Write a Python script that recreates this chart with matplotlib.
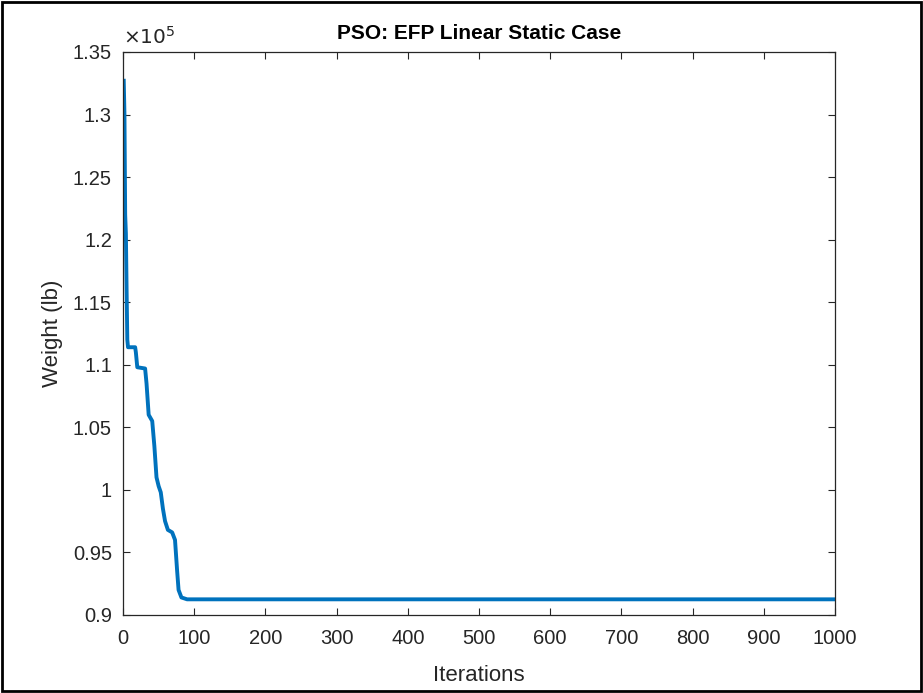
import matplotlib
matplotlib.use("Agg")
import matplotlib.pyplot as plt
import numpy as np
from matplotlib.patches import Rectangle

# convergence history (breakpoints), weight in lb
iterations = [1, 2, 3, 4, 5, 6, 7, 17, 18, 20, 31, 33, 36, 41, 44, 47, 50, 53,
              56, 59, 63, 69, 73, 76, 78, 82, 90, 1000]
weight_lb = [132700, 130000, 122000, 120500, 116000, 112000, 111400, 111400,
             111000, 109800, 109700, 108500, 106000, 105500, 103500, 101000,
             100300, 99800, 98500, 97500, 96800, 96600, 96000, 93500, 92000,
             91400, 91250, 91250]

x_ticks = [0, 100, 200, 300, 400, 500, 600, 700, 800, 900, 1000]
y_ticks = [0.9, 0.95, 1.0, 1.05, 1.1, 1.15, 1.2, 1.25, 1.3, 1.35]

plt.rcParams["font.family"] = ["Liberation Sans", "DejaVu Sans"]
txt = "#262626"

fig = plt.figure(figsize=(9.23, 6.93), dpi=100)
ax = fig.add_axes([0.1333, 0.1126, 0.7714, 0.8124])

ax.plot(iterations, np.array(weight_lb) / 1e5, color="#0072BD", lw=2.8)

ax.set_xlim(0, 1000)
ax.set_ylim(0.9, 1.35)
ax.set_xticks(x_ticks)
ax.set_yticks(y_ticks)
ax.set_yticklabels([f"{v:g}" for v in y_ticks])
ax.tick_params(direction="in", length=5, width=0.8, top=True, right=True,
               labelsize=14.5, colors=txt)
ax.tick_params(axis="x", pad=10)
ax.tick_params(axis="y", pad=8)
for s in ax.spines.values():
    s.set_color(txt)
    s.set_linewidth(0.9)

ax.text(0.0, 1.008, r"$\times10^{5}$", transform=ax.transAxes, fontsize=14.5,
        color=txt, ha="left", va="bottom")
ax.set_title("PSO: EFP Linear Static Case", fontsize=15, fontweight="bold",
             color="black", pad=9)
ax.set_xlabel("Iterations", fontsize=16, color=txt, labelpad=12)
ax.set_ylabel("Weight (lb)", fontsize=16, color=txt, labelpad=7)

fig.patches.append(Rectangle((0.002, 0.003), 0.996, 0.994, transform=fig.transFigure,
                             fill=False, edgecolor="black", lw=2))

fig.savefig("out.png", dpi=100)
